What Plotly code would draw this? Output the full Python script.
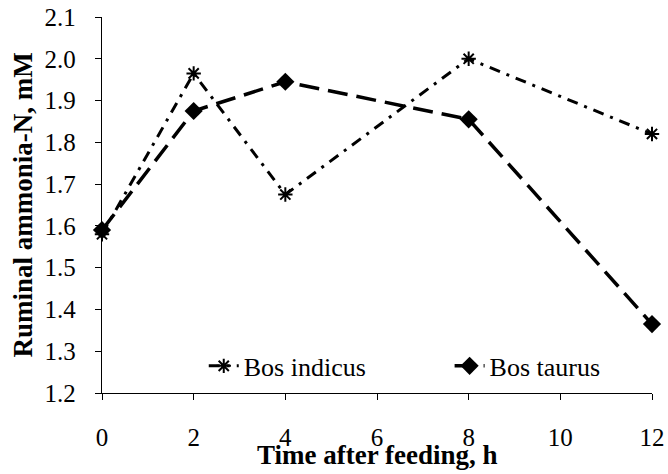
import plotly.graph_objects as go

# 給餌後時間 (h)
hours = [0, 2, 4, 8, 12]
# ルーメンアンモニア態窒素 (mM)
bos_indicus = [1.58, 1.965, 1.675, 2.0, 1.82]
bos_taurus = [1.59, 1.875, 1.945, 1.855, 1.365]

x_ticks = [0, 2, 4, 6, 8, 10, 12]
y_ticks = [1.2, 1.3, 1.4, 1.5, 1.6, 1.7, 1.8, 1.9, 2.0, 2.1]

FONT = "Liberation Serif"

fig = go.Figure()

fig.add_trace(go.Scatter(
    x=hours, y=bos_indicus, mode="lines+markers", name="Bos indicus",
    line=dict(color="black", width=3, dash="11px,7px,3px,7px"),
    marker=dict(symbol="asterisk-open", size=12, color="black",
                line=dict(color="black", width=2)),
    cliponaxis=False, legend="legend",
))
fig.add_trace(go.Scatter(
    x=hours, y=bos_taurus, mode="lines+markers", name="Bos taurus",
    line=dict(color="black", width=3.5, dash="20px,9px"),
    marker=dict(symbol="diamond", size=14, color="black"),
    cliponaxis=False, legend="legend2",
))

legend_style = dict(
    orientation="h", y=0.072, xanchor="left", yanchor="middle",
    bgcolor="rgba(0,0,0,0)", font=dict(family=FONT, size=26),
)

fig.update_layout(
    width=668, height=474,
    margin=dict(l=102, r=16, t=17, b=81),
    paper_bgcolor="white", plot_bgcolor="white",
    font=dict(family=FONT, size=25, color="black"),
    showlegend=True,
    legend=dict(x=0.185, **legend_style),
    legend2=dict(x=0.632, **legend_style),
    xaxis=dict(
        range=[0, 12], tickvals=x_ticks, ticks="outside", ticklen=6,
        tickcolor="black", showline=True, linecolor="black", linewidth=1.3,
        showgrid=False, zeroline=False, automargin=False,
        ticklabelstandoff=16,
        tickfont=dict(family=FONT, size=25),
    ),
    yaxis=dict(
        range=[1.2, 2.1], tickvals=y_ticks, tickformat=".1f",
        ticks="outside", ticklen=6, tickcolor="black",
        showline=True, linecolor="black", linewidth=1.3,
        showgrid=False, zeroline=False, automargin=False,
        ticklabelstandoff=14,
        tickfont=dict(family=FONT, size=25),
        title=dict(text="<b>Ruminal ammonia-N, mM</b>", standoff=4,
                   font=dict(family=FONT, size=27)),
    ),
)

# x軸タイトル（目盛ラベルとの間隔を合わせるため注釈で配置）
fig.add_annotation(
    text="<b>Time after feeding, h</b>", xref="paper", yref="paper",
    x=0.5, y=-0.165, xanchor="center", yanchor="middle", showarrow=False,
    font=dict(family=FONT, size=27, color="black"),
)

# ページ既定の余白 (8px) を消して図を左上に合わせる
fig.write_html("out.html", config={"displayModeBar": False},
               post_script="document.body.style.margin='0px';")
